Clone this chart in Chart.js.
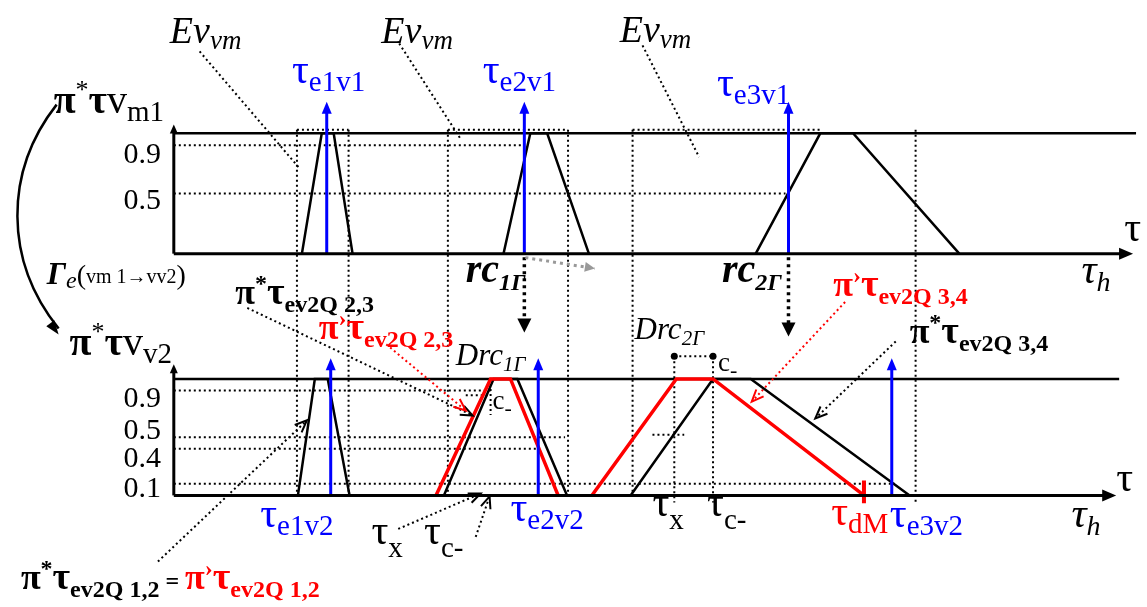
<!DOCTYPE html>
<html>
<head>
<meta charset="utf-8">
<title>pi tau transfer</title>
<script src="https://cdn.jsdelivr.net/npm/chart.js@4.4.1/dist/chart.umd.min.js"></script>
<style>
  html, body { margin: 0; padding: 0; background: #fff; }
  canvas { display: block; }
</style>
</head>
<body>
<canvas id="chart" width="1147" height="607"></canvas>
<script>
// levels marked on the two membership axes
const topTicks = [0.5, 0.9]
const botTicks = [0.1, 0.4, 0.5, 0.9]

// upper panel pi*tau v_m1 : trapezoids as [tau, level]
const topTrap1 = [[12.9, 0], [14.9, 1], [16.1, 1], [18.0, 0]]
const topTrap2 = [[33.2, 0], [35.9, 1], [37.6, 1], [41.8, 0]]
const topTrap3 = [[58.6, 0], [65.1, 1], [68.4, 1], [79.1, 0]]

// lower panel pi*tau v_v2 (black) and pi' (red)
const botTrap1 = [[12.5, 0], [14.2, 1], [15.5, 1], [17.7, 0]]
const botTrap2 = [[27.2, 0], [32.2, 1], [34.6, 1], [39.6, 0]]
const botTrap3 = [[46.0, 0], [54.3, 1], [58.1, 1], [74.1, 0]]
const redTrap2 = [[26.4, 0], [31.9, 1], [33.9, 1], [38.7, 0]]
const redTrap3 = [[42.1, 0], [50.6, 1], [54.3, 1], [69.5, 0]]

// event instants (blue arrows)
const topEvents = [15.4, 35.3, 61.9]
const topEventNames = ["e1v1", "e2v1", "e3v1"]
const botEvents = [15.8, 36.7, 72.3]
const botEventNames = ["e1v2", "e2v2", "e3v2"]

// Ev_vm windows: dotted borders running through both panels
const windowEdges = [12.4, 17.6, 27.6, 39.7, 46.2, 74.7]
const topBoxes = [[12.4, 17.6], [27.6, 39.7], [46.2, 65.1]]

// rc1Γ, rc2Γ and the marked instants of the lower panel
const rcTimes = [35.3, 61.9]
const tauX = 50.4
const tauC = 54.3
const tauDM = 69.5

// how far each dotted level line runs to the right
const topGridEnd = { 0.9: 35.2, 0.5: 61.6 }
const botGridEnd = { 0.9: 31.9, 0.5: 39.4, 0.4: 36.6, 0.1: 72.6 }
// tick label nudges (px below the level line) so 0.4 / 0.5 do not collide
const topTickDy = { 0.9: 18, 0.5: 16 }
const botTickDy = { 0.9: 16, 0.5: 2, 0.4: 18, 0.1: 13 }

const SERIF = '"Liberation Serif", "Times New Roman", serif'
const BLUE = "#0000ff"
const RED = "#ff0000"
const GREY = "#999999"
const DOT = [2, 3]

const seg = (pts, axis, color, width, dash, extra) => Object.assign({
  data: pts.map(([x, y]) => ({ x, y })),
  yAxisID: axis,
  borderColor: color,
  borderWidth: width,
  borderDash: dash || [],
  pointRadius: 0,
  fill: false,
  tension: 0,
}, extra || {})

const datasets = []
// dotted helpers first (they end up underneath)
topTicks.forEach(v => datasets.push(seg([[0, v], [topGridEnd[v], v]], "yTop", "#000", 2, DOT)))
botTicks.forEach(v => datasets.push(seg([[0, v], [botGridEnd[v], v]], "yBot", "#000", 2, DOT)))
topBoxes.forEach(([a, b]) => datasets.push(seg([[a, 1.03], [b, 1.03]], "yTop", "#000", 2, DOT)))
// Drc2Γ marker and c- marks
datasets.push(seg([[tauX, 1.195], [tauX, -0.06]], "yBot", "#000", 2, DOT))
datasets.push(seg([[tauC, 1.195], [tauC, -0.06]], "yBot", "#000", 2, DOT))
datasets.push(seg([[tauX, 1.195], [tauC, 1.195]], "yBot", "#000", 2, DOT,
  { pointRadius: 3.5, pointBackgroundColor: "#000", pointBorderWidth: 0 }))
datasets.push(seg([[48.2, 0.52], [51.4, 0.52]], "yBot", "#000", 2, DOT))
datasets.push(seg([[31.9, 1], [31.9, 0.69]], "yBot", "#000", 2, DOT))
datasets.push(seg([[29.4, 0.86], [31.9, 0.86]], "yBot", "#000", 2, DOT))
// level-1 lines
datasets.push(seg([[0, 1], [96.9, 1]], "yTop", "#000", 2.5))
datasets.push(seg([[0, 1], [95.2, 1]], "yBot", "#000", 2.5))
// trapezoids
;[topTrap1, topTrap2, topTrap3].forEach(t => datasets.push(seg(t, "yTop", "#000", 2.5)))
;[botTrap1, botTrap2, botTrap3].forEach(t => datasets.push(seg(t, "yBot", "#000", 2.5)))
;[redTrap2, redTrap3].forEach(t => datasets.push(seg(t, "yBot", RED, 3.5)))
// blue event shafts
topEvents.forEach(t => datasets.push(seg([[t, 0], [t, 1.2]], "yTop", BLUE, 3)))
botEvents.forEach(t => datasets.push(seg([[t, 0], [t, 1.12]], "yBot", BLUE, 3)))
datasets.push(seg([[tauDM, 0.127], [tauDM, -0.068]], "yBot", RED, 4))
datasets.reverse()

// ---- text and arrows ----
const part = (t, size, style = "", color = "#000", dy = 0) => ({ t, size, style, color, dy })
const tauSub = (sub, color = "#000", dy = 8) => [part("τ", 42, "", color), part(sub, 29, "", color, dy)]
const evLabel = () => [part("Ev", 38, "italic"), part("vm", 27, "italic", "#000", 6)]
const piLabel = (sub, color, mark) => [
  part("π", 36, "bold", color),
  part(mark, 24, "bold", color, -13),
  part("τ", 38, "bold", color),
  part(sub, 24, "bold", color, 8),
]

const labels = [
  [-0.4, 1.746, "yTop", evLabel()],
  [20.9, 1.746, "yTop", evLabel()],
  [44.9, 1.762, "yTop", evLabel()],
  [11.9, 1.418, "yTop", tauSub(topEventNames[0], BLUE)],
  [31.1, 1.418, "yTop", tauSub(topEventNames[1], BLUE)],
  [54.7, 1.311, "yTop", tauSub(topEventNames[2], BLUE)],
  [-12.1, 1.172, "yTop", [part("π", 40, "bold"), part("*", 26, "", "#000", -15), part("τ", 40, "bold"),
    part("v", 40), part("m1", 29, "", "#000", 8)]],
  [95.7, 0.107, "yTop", [part("τ", 42)]],
  [91.4, -0.246, "yTop", [part("τ", 42, "italic"), part("h", 28, "italic", "#000", 8)]],
  [29.4, -0.238, "yTop", [part("rc", 40, "italic bold"), part("1Γ", 24, "italic bold", "#000", 8)]],
  [55.2, -0.238, "yTop", [part("rc", 40, "italic bold"), part("2Γ", 24, "italic bold", "#000", 8)]],
  [-12.8, -0.254, "yTop", [part("Γ", 32, "italic bold"), part("e", 24, "italic", "#000", 4),
    part("(", 28), part("vm 1→vv2", 20, "", "#000", -1), part(")", 28)]],

  [-10.5, 1.203, "yBot", [part("π", 40, "bold"), part("*", 26, "", "#000", -15), part("τ", 40, "bold"),
    part("v", 40), part("v2", 29, "", "#000", 8)]],
  [6.2, 1.644, "yBot", piLabel("ev2Q 2,3", "#000", "*")],
  [14.6, 1.339, "yBot", piLabel("ev2Q 2,3", RED, "›")],
  [28.4, 1.119, "yBot", [part("Drc", 31, "italic"), part("1Γ", 21, "italic", "#000", 6)]],
  [32.1, 0.746, "yBot", [part("c", 27), part("-", 22, "", "#000", 6)]],
  [46.4, 1.339, "yBot", [part("Drc", 31, "italic"), part("2Γ", 21, "italic", "#000", 6)]],
  [54.8, 1.068, "yBot", [part("c", 27), part("-", 22, "", "#000", 6)]],
  [66.4, 1.712, "yBot", piLabel("ev2Q 3,4", RED, "›")],
  [74.1, 1.305, "yBot", piLabel("ev2Q 3,4", "#000", "*")],
  [94.9, 0.042, "yBot", [part("τ", 42)]],
  [90.4, -0.271, "yBot", [part("τ", 42, "italic"), part("h", 28, "italic", "#000", 8)]],
  [8.7, -0.271, "yBot", tauSub(botEventNames[0], BLUE)],
  [19.9, -0.415, "yBot", tauSub("x", "#000", 13)],
  [25.2, -0.415, "yBot", tauSub("c-", "#000", 13)],
  [33.9, -0.22, "yBot", tauSub(botEventNames[1], BLUE)],
  [48.2, -0.178, "yBot", tauSub("x", "#000", 13)],
  [53.7, -0.178, "yBot", tauSub("c-", "#000", 13)],
  [66.2, -0.254, "yBot", tauSub("dM", RED)],
  [72.1, -0.271, "yBot", tauSub(botEventNames[2], BLUE)],
  [-15.4, -0.805, "yBot", [...piLabel("ev2Q 1,2", "#000", "*"), part(" = ", 24, "bold"),
    ...piLabel("ev2Q 1,2", RED, "›")]],
]

// dotted pointers: from, to, axis, colour, with arrow head
const leaders = [
  [[2.6, 1.68], [12.7, 0.705], "yTop", "#000", false],
  [[22.7, 1.746], [28.9, 0.951], "yTop", "#000", false],
  [[47.2, 1.73], [52.9, 0.803], "yTop", "#000", false],
  [[7.4, 1.61], [30.1, 0.686], "yBot", "#000", true],
  [[21.4, 1.297], [29.4, 0.729], "yBot", RED, true],
  [[-1.6, -0.568], [13.4, 0.644], "yBot", "#000", true],
  [[22.6, -0.288], [30.9, 0.017], "yBot", "#000", true],
  [[30.4, -0.356], [31.8, -0.008], "yBot", "#000", true],
  [[67.6, 1.661], [58.2, 0.805], "yBot", RED, true],
  [[72.7, 1.322], [64.6, 0.661], "yBot", "#000", true],
]

function strokePath(ctx, pts, color, width, dash) {
  ctx.beginPath()
  ctx.strokeStyle = color
  ctx.lineWidth = width
  ctx.setLineDash(dash || [])
  pts.forEach(([x, y], i) => (i ? ctx.lineTo(x, y) : ctx.moveTo(x, y)))
  ctx.stroke()
}

function head(ctx, from, to, len, half, color, open) {
  const a = Math.atan2(to[1] - from[1], to[0] - from[0])
  const bx = to[0] - len * Math.cos(a)
  const by = to[1] - len * Math.sin(a)
  const l = [bx + half * Math.sin(a), by - half * Math.cos(a)]
  const r = [bx - half * Math.sin(a), by + half * Math.cos(a)]
  if (open) {
    strokePath(ctx, [l, to, r], color, 2)
    return
  }
  ctx.setLineDash([])
  ctx.beginPath()
  ctx.fillStyle = color
  ctx.moveTo(to[0], to[1])
  ctx.lineTo(l[0], l[1])
  ctx.lineTo(r[0], r[1])
  ctx.closePath()
  ctx.fill()
}

function drawParts(ctx, x, y, parts) {
  let cx = x
  parts.forEach(p => {
    ctx.font = `${p.style} ${p.size}px ${SERIF}`
    ctx.fillStyle = p.color
    ctx.fillText(p.t, cx, y + p.dy)
    cx += ctx.measureText(p.t).width
  })
}

const diagram = {
  id: "diagram",
  beforeDatasetsDraw(chart) {
    const { ctx } = chart
    const X = chart.scales.x, T = chart.scales.yTop, B = chart.scales.yBot
    ctx.save()
    windowEdges.forEach(t => {
      const x = X.getPixelForValue(t)
      strokePath(ctx, [[x, T.getPixelForValue(1.03)], [x, B.getPixelForValue(t > 70 ? -0.06 : 0)]], "#000", 2, DOT)
    })
    ctx.restore()
  },
  afterDatasetsDraw(chart) {
    const { ctx } = chart
    const P = (t, v, ax) => [chart.scales.x.getPixelForValue(t), chart.scales[ax].getPixelForValue(v)]
    ctx.save()

    // axes with arrow heads
    ;[["yTop", 1.074, 96.6], ["yBot", 1.127, 94.9]].forEach(([ax, top, right]) => {
      const o = P(0, 0, ax), up = P(0, top, ax), r = P(right, 0, ax)
      strokePath(ctx, [o, [up[0], up[1] + 6]], "#000", 3)
      head(ctx, o, up, 9, 4, "#000")
      strokePath(ctx, [o, [r[0] - 10, r[1]]], "#000", 3)
      head(ctx, o, r, 14, 6, "#000")
    })

    // blue event heads
    topEvents.forEach(t => head(ctx, P(t, 0, "yTop"), P(t, 1.262, "yTop"), 12, 5, BLUE))
    botEvents.forEach(t => head(ctx, P(t, 0, "yBot"), P(t, 1.178, "yBot"), 12, 5, BLUE))

    // rc arrows down into the lower panel
    const rcTips = [1.398, 1.364]
    rcTimes.forEach((t, i) => {
      const a = P(t, -0.03, "yTop"), b = P(t, rcTips[i], "yBot")
      strokePath(ctx, [a, [b[0], b[1] - 10]], "#000", 3.5, [3, 4])
      head(ctx, a, b, 14, 7, "#000")
    })
    const g0 = P(35.4, -0.033, "yTop"), g1 = P(42.4, -0.123, "yTop")
    strokePath(ctx, [g0, g1], GREY, 3, [3, 4])
    head(ctx, g0, g1, 10, 5, GREY)

    // curved transfer arrow on the left
    const c0 = P(-11.8, 1.238, "yTop"), c1 = P(-17.1, 0.68, "yTop")
    const c2 = P(-17.1, 2.017, "yBot"), c3 = P(-11.6, 1.381, "yBot")
    ctx.setLineDash([])
    ctx.beginPath()
    ctx.strokeStyle = "#000"
    ctx.lineWidth = 2.5
    ctx.moveTo(c0[0], c0[1])
    ctx.bezierCurveTo(c1[0], c1[1], c2[0], c2[1], c3[0], c3[1] - 6)
    ctx.stroke()
    head(ctx, c2, c3, 14, 5, "#000")

    // dotted pointers
    leaders.forEach(([a, b, ax, color, arrow]) => {
      const p = P(a[0], a[1], ax), q = P(b[0], b[1], ax)
      strokePath(ctx, [p, q], color, 2, DOT)
      if (arrow) head(ctx, p, q, 12, 5, color, true)
    })

    // tick labels
    ctx.textBaseline = "alphabetic"
    const tickText = (v, ax, dy) => {
      const [x, y] = P(-1.3, v, ax)
      const s = v.toFixed(1)
      ctx.font = `30px ${SERIF}`
      ctx.fillStyle = "#000"
      ctx.fillText(s, x - ctx.measureText(s).width, y + dy)
    }
    topTicks.forEach(v => tickText(v, "yTop", topTickDy[v]))
    botTicks.forEach(v => tickText(v, "yBot", botTickDy[v]))

    labels.forEach(([t, v, ax, parts]) => {
      const [x, y] = P(t, v, ax)
      drawParts(ctx, x, y, parts)
    })
    ctx.restore()
  },
}

new Chart(document.getElementById("chart"), {
  type: "line",
  data: { datasets },
  options: {
    responsive: false,
    animation: false,
    events: [],
    layout: { padding: 0 },
    plugins: { legend: { display: false }, tooltip: { enabled: false } },
    scales: {
      x: { type: "linear", min: -17.1, max: 97.6, display: false },
      yTop: { type: "linear", min: -2.902, max: 2.074, display: false },
      yBot: { type: "linear", min: -0.924, max: 4.22, display: false },
    },
  },
  plugins: [diagram],
})
</script>
</body>
</html>
